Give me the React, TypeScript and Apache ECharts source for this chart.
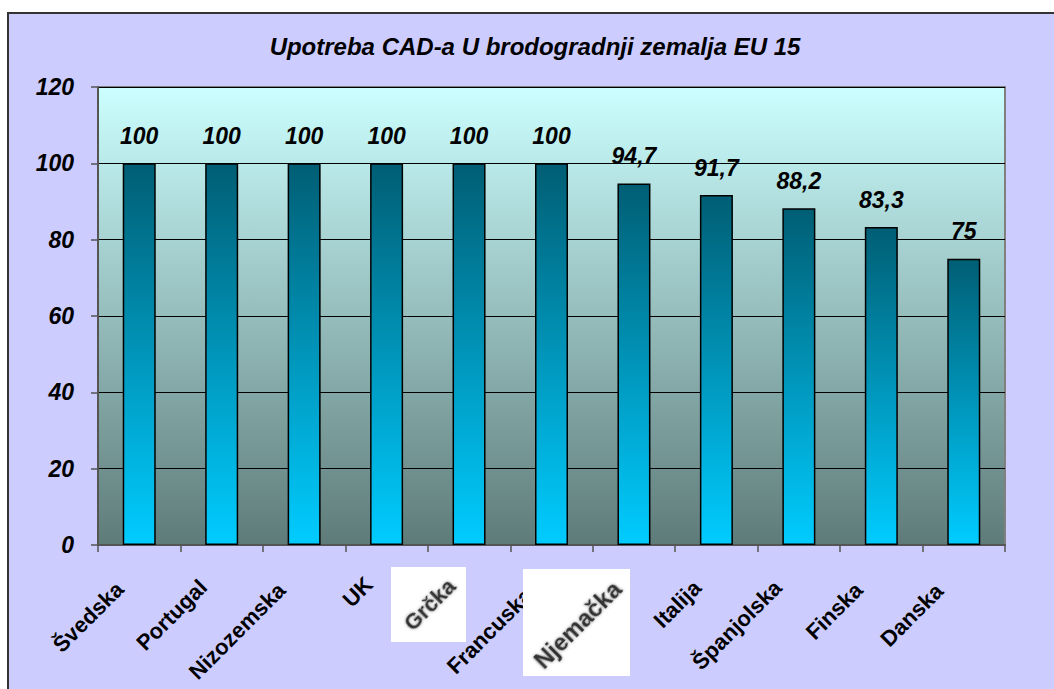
import React, { useEffect, useRef } from "react";
import * as echarts from "echarts";

const categories = ["Švedska", "Portugal", "Nizozemska", "UK", "Grčka", "Francuska", "Njemačka", "Italija", "Španjolska", "Finska", "Danska"];
const values = [100, 100, 100, 100, 100, 100, 94.7, 91.7, 88.2, 83.3, 75];
const yMin = 0;
const yMax = 120;
const yStep = 20;
const title = "Upotreba CAD-a U brodogradnji zemalja EU 15";

// per-label placement offsets (px) of label centre from category centre / axis line
const labelOffsets = [[-51, 72], [-50, 70], [-67, 86], [-29, 47], [-39, 60], [-62, 86], [-56, 80], [-39, 59], [-62, 80], [-47, 66], [-52, 70]];
// labels that appear as pasted images in the original (white box behind)
const imageLabelIdx = [4, 6];
const imageBoxes = [[391, 567, 75, 75], [523, 569, 107, 107]];
const imageFontSizes = [22, 24];

const FONT = "'Liberation Sans', Arial, sans-serif";
const ROT = Math.PI / 4;

export default function App() {
  const ref = useRef<HTMLDivElement>(null);
  useEffect(() => {
    const chart = echarts.init(ref.current!, null, { renderer: "svg" });
    chart.setOption({
      animation: false,
      backgroundColor: "transparent",
      grid: {
        left: 98, top: 87, width: 907, height: 458,
        show: true,
        borderColor: "#808080",
        borderWidth: 2,
        backgroundColor: new echarts.graphic.LinearGradient(0, 0, 0, 1, [
          { offset: 0, color: "#CCFFFF" },
          { offset: 1, color: "#5E7B79" },
        ]),
        outerBoundsMode: "none",
      },
      xAxis: {
        type: "category",
        data: categories,
        axisLine: { lineStyle: { color: "#555", width: 2 } },
        axisTick: { show: true, length: 7, interval: 0, lineStyle: { color: "#555", width: 1.5 } },
        axisLabel: { show: false },
      },
      yAxis: {
        type: "value",
        min: yMin, max: yMax, interval: yStep,
        axisLine: { show: true, lineStyle: { color: "#555", width: 2 } },
        axisTick: { show: true, length: 7, lineStyle: { color: "#555", width: 1.5 } },
        axisLabel: { margin: 24, fontFamily: FONT, fontWeight: "bold", fontStyle: "italic", fontSize: 23, color: "#000" },
        splitLine: { lineStyle: { color: "#000", width: 1 } },
      },
      series: [{
        type: "bar",
        data: values,
        barWidth: 33,
        itemStyle: {
          color: new echarts.graphic.LinearGradient(0, 0, 0, 1, [
            { offset: 0, color: "#005E74" },
            { offset: 1, color: "#00CCFF" },
          ]),
          borderColor: "#000",
          borderWidth: 1.5,
        },
        label: {
          show: true,
          position: "top",
          distance: 16,
          fontFamily: FONT, fontWeight: "bold", fontStyle: "italic", fontSize: 23, color: "#000",
          formatter: (p: any) => String(p.value).replace(".", ","),
        },
      }],
    });

    const axisY = chart.convertToPixel({ yAxisIndex: 0 }, yMin) as number;
    const graphic: any[] = [{
      type: "text", x: 535, y: 46, z: 50,
      style: { text: title, align: "center", verticalAlign: "middle", font: `italic bold 24px ${FONT}`, fill: "#000" },
    }];
    categories.forEach((c, i) => {
      if (imageLabelIdx.includes(i)) return;
      const cx = chart.convertToPixel({ xAxisIndex: 0 }, i) as number;
      graphic.push({
        type: "text", x: cx + labelOffsets[i][0], y: axisY + labelOffsets[i][1], rotation: ROT, z: 50,
        style: { text: c, align: "center", verticalAlign: "middle", font: `bold 22px ${FONT}`, fill: "#000" },
      });
    });
    imageLabelIdx.forEach((i, k) => {
      const [bx, by, bw, bh] = imageBoxes[k];
      const cx = chart.convertToPixel({ xAxisIndex: 0 }, i) as number;
      graphic.push({ type: "rect", z: 60, shape: { x: bx, y: by, width: bw, height: bh }, style: { fill: "#fff" } });
      graphic.push({
        type: "text", x: cx + labelOffsets[i][0], y: axisY + labelOffsets[i][1], rotation: ROT, z: 61,
        style: { text: categories[i], align: "center", verticalAlign: "middle", font: `bold ${imageFontSizes[k]}px ${FONT}`, fill: "#333", textShadowColor: "#888", textShadowBlur: 3 },
      });
    });
    chart.setOption({ graphic });
    return () => chart.dispose();
  }, []);
  return (
    <div style={{ position: "fixed", left: 0, top: 0, width: 1054, height: 689, background: "#fff", overflow: "hidden" }}>
      <div style={{ position: "absolute", left: 7, top: 12, width: 1200, height: 800, background: "#CCCCFF", border: "2px solid #333" }} />
      <div ref={ref} style={{ position: "absolute", left: 0, top: 0, width: 1054, height: 689 }} />
    </div>
  );
}
